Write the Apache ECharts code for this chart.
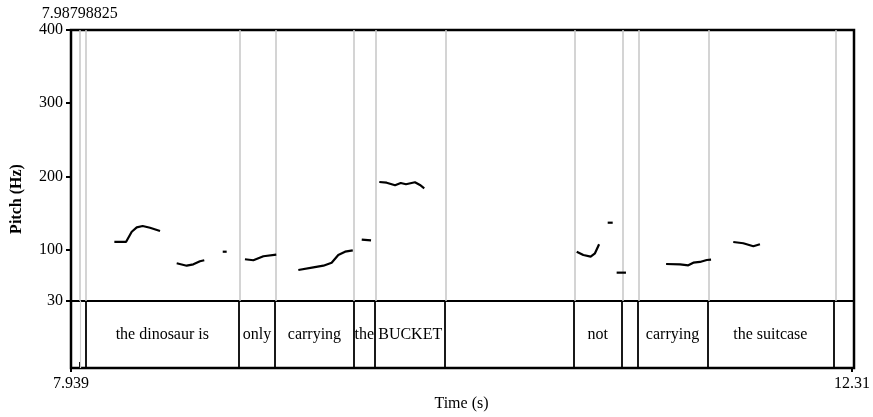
<!DOCTYPE html>
<html><head><meta charset="utf-8">
<script src="https://cdn.jsdelivr.net/npm/echarts@6/dist/echarts.min.js"></script>
<style>html,body{margin:0;padding:0;background:#fff}#c{width:873px;height:417px}</style>
</head><body><div id="c"></div>
<script>
const timeMin = 7.939, timeMax = 12.31;
const cursorTime = 7.98798825;
const cursorLabel = '7.98798825';
const pitchMin = 30, pitchMax = 400;
const pitchTicks = [30, 100, 200, 300, 400];
const timeTickLabels = ['7.939', '12.31'];
const boundaries = [8.023, 8.877, 9.084, 9.519, 9.642, 10.033, 10.753, 11.021, 11.110, 11.501, 12.205];
const words = ['', 'the dinosaur is', 'only', 'carrying', 'the', 'BUCKET', '', 'not', '', 'carrying', 'the suitcase', ''];
// pitch contour segments: [time (s), pitch (Hz)]
const seg1 = [[8.181,110.6],[8.246,110.6],[8.278,124.6],[8.306,130.6],[8.339,132.4],[8.380,130.0],[8.436,125.6]];
const seg2 = [[8.529,81.5],[8.585,78.2],[8.622,80.1],[8.659,84.2],[8.683,85.6]];
const seg3 = [[8.786,97.3],[8.808,97.3]];
const seg4 = [[8.910,87.0],[8.957,85.6],[9.013,91.1],[9.085,93.3]];
const seg5 = [[9.208,72.3],[9.292,76.0],[9.348,78.2],[9.394,82.3],[9.431,92.8],[9.469,97.3],[9.512,99.2]];
const seg6 = [[9.562,113.8],[9.614,112.8]];
const seg7 = [[9.660,192.5],[9.701,191.5],[9.748,188.0],[9.780,191.1],[9.809,189.4],[9.859,192.1],[9.887,188.4],[9.911,183.9]];
const seg8 = [[10.762,97.3],[10.799,92.8],[10.840,90.5],[10.864,95.1],[10.887,107.4]];
const seg9 = [[10.935,136.9],[10.963,136.9]];
const seg10 = [[10.985,68.7],[11.037,68.7]];
const seg11 = [[11.261,80.5],[11.339,80.1],[11.385,78.7],[11.413,82.3],[11.450,83.3],[11.488,86.0],[11.512,86.4]];
const seg12 = [[11.636,110.6],[11.692,108.8],[11.748,104.7],[11.785,107.4]];
const segments = [seg1, seg2, seg3, seg4, seg5, seg6, seg7, seg8, seg9, seg10, seg11, seg12];

const FONT = 'Liberation Serif';
const edges = [timeMin, ...boundaries, timeMax];
const wordData = words.map((w, i) => [(edges[i] + edges[i + 1]) / 2, 0.5, w]);

const chart = echarts.init(document.getElementById('c'));
const grayLines = [cursorTime, ...boundaries].map(b => ({ xAxis: b }));
const blackLines = boundaries.map(b => ({ xAxis: b }));

const series = segments.map((s, i) => ({
  type: 'line', xAxisIndex: 0, yAxisIndex: 0, data: s, showSymbol: false, symbol: 'none',
  lineStyle: { color: '#000', width: 2.2 }, z: 5, animation: false, silent: true,
  markLine: i === 0 ? { symbol: ['none', 'none'], silent: true, animation: false, label: { show: false },
    lineStyle: { color: '#c6c6c6', width: 1.5, type: 'solid' }, data: grayLines } : undefined
}));
series.push({
  type: 'scatter', xAxisIndex: 1, yAxisIndex: 1, data: wordData, symbolSize: 0, silent: true, animation: false,
  itemStyle: { opacity: 1 },
  label: { show: true, position: 'inside', formatter: p => p.data[2], color: '#000', opacity: 1, fontFamily: FONT, fontSize: 16 },
  markLine: { symbol: ['none', 'none'], silent: true, animation: false, label: { show: false },
    lineStyle: { color: '#000', width: 1.8, type: 'solid' }, data: blackLines }
});
series.push({
  type: 'scatter', xAxisIndex: 1, yAxisIndex: 1, data: [], silent: true, animation: false,
  markLine: { symbol: ['none', 'none'], silent: true, animation: false, label: { show: false },
    lineStyle: { color: '#d0d0d0', width: 1.2, type: 'solid' }, data: [{ xAxis: cursorTime }] }
});

const option = {
  animation: false,
  backgroundColor: '#fff',
  grid: [
    { left: 71, right: 19, top: 30, height: 271 },
    { left: 71, right: 19, top: 301, height: 67 },
    { left: 71, right: 19, top: 30, height: 338, show: true, borderColor: '#000', borderWidth: 2.5, backgroundColor: 'transparent' }
  ],
  xAxis: [
    { gridIndex: 0, type: 'value', min: timeMin, max: timeMax, position: 'bottom',
      axisLine: { show: true, onZero: false, lineStyle: { color: '#000', width: 2 } },
      axisTick: { show: false }, axisLabel: { show: false }, splitLine: { show: false } },
    { gridIndex: 1, type: 'value', min: timeMin, max: timeMax, position: 'bottom',
      name: 'Time (s)', nameLocation: 'middle', nameGap: 28,
      nameTextStyle: { fontFamily: FONT, fontSize: 16, color: '#000' },
      axisLine: { show: false },
      axisTick: { show: true, length: 4, customValues: [timeMin, timeMax], lineStyle: { color: '#000', width: 2 } },
      axisLabel: { show: true, customValues: [timeMin, timeMax], margin: 8,
        formatter: v => (Math.abs(v - timeMin) < 1e-6 ? timeTickLabels[0] : timeTickLabels[1]),
        fontFamily: FONT, fontSize: 16, color: '#000' },
      splitLine: { show: false } },
    { gridIndex: 2, type: 'value', min: timeMin, max: timeMax, position: 'top',
      axisLine: { show: false },
      axisTick: { show: true, length: 6, customValues: [cursorTime], lineStyle: { color: '#000', width: 2 } },
      axisLabel: { show: true, customValues: [cursorTime], margin: 8, formatter: () => cursorLabel,
        fontFamily: FONT, fontSize: 16, color: '#000' },
      splitLine: { show: false } }
  ],
  yAxis: [
    { gridIndex: 0, type: 'value', min: pitchMin, max: pitchMax,
      axisLine: { show: false },
      axisTick: { show: true, length: 5, customValues: pitchTicks, lineStyle: { color: '#000', width: 2 } },
      axisLabel: { show: true, customValues: pitchTicks, margin: 8, fontFamily: FONT, fontSize: 16, color: '#000' },
      splitLine: { show: false } },
    { gridIndex: 1, type: 'value', min: 0, max: 1, show: false },
    { gridIndex: 2, type: 'value', min: 0, max: 1,
      name: 'Pitch (Hz)', nameLocation: 'middle', nameGap: 46,
      nameTextStyle: { fontFamily: FONT, fontSize: 16, color: '#000', fontWeight: 'bold' },
      axisLine: { show: false }, axisTick: { show: false }, axisLabel: { show: false }, splitLine: { show: false } }
  ],
  series
};
chart.setOption(option);
</script></body></html>
